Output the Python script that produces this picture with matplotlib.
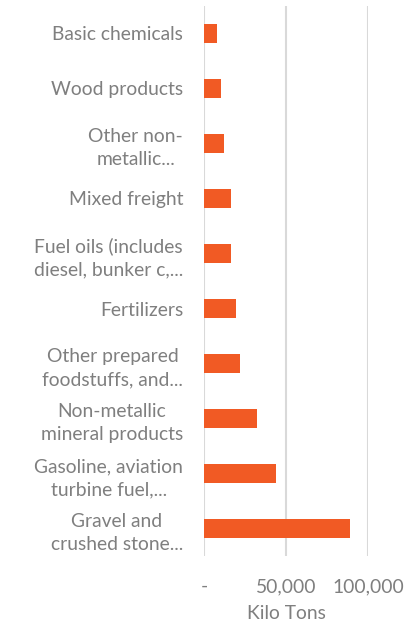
import matplotlib.pyplot as plt

# 上から下の順
categories = [
    'Basic chemicals',
    'Wood products',
    'Other non-\nmetallic...',
    'Mixed freight',
    'Fuel oils (includes\ndiesel, bunker c,...',
    'Fertilizers',
    'Other prepared\nfoodstuffs, and...',
    'Non-metallic\nmineral products',
    'Gasoline, aviation\nturbine fuel,...',
    'Gravel and\ncrushed stone...',
]
kilo_tons = [7700, 10300, 12300, 16400, 16600, 19500, 21900, 32400, 44200, 88800]
xticks = [0, 50000, 100000]
xtick_labels = ['-', '50,000', '100,000']

plt.rcParams['font.family'] = ['Lato', 'DejaVu Sans']
grey = '#7f7f7f'
fs = 13.9

fig = plt.figure(figsize=(4.2, 6.24), dpi=100)
ax = fig.add_axes([204 / 420, 1 - 556 / 624, 164 / 420, 550 / 624])

y = list(range(len(categories)))[::-1]
ax.barh(y, kilo_tons, height=0.355, color='#F15A24', zorder=3)

ax.set_xlim(0, 100000)
ax.set_ylim(-0.5, len(categories) - 0.5)
ax.set_xticks(xticks)
ax.set_xticklabels(xtick_labels, fontsize=fs, color=grey)
ax.set_yticks(y)
ax.set_yticklabels(categories, fontsize=fs, color=grey)
for t in ax.get_yticklabels():
    t.set_multialignment('center')
    t.set_linespacing(1.45)
ax.tick_params(axis='both', length=0)
ax.tick_params(axis='y', pad=15)
ax.tick_params(axis='x', pad=16)

ax.grid(axis='x', color='#d9d9d9', linewidth=1.5, zorder=0)
for s in ax.spines.values():
    s.set_visible(False)

ax.set_xlabel('Kilo Tons', fontsize=fs, color=grey, labelpad=7)

fig.savefig('out.png', dpi=100)
